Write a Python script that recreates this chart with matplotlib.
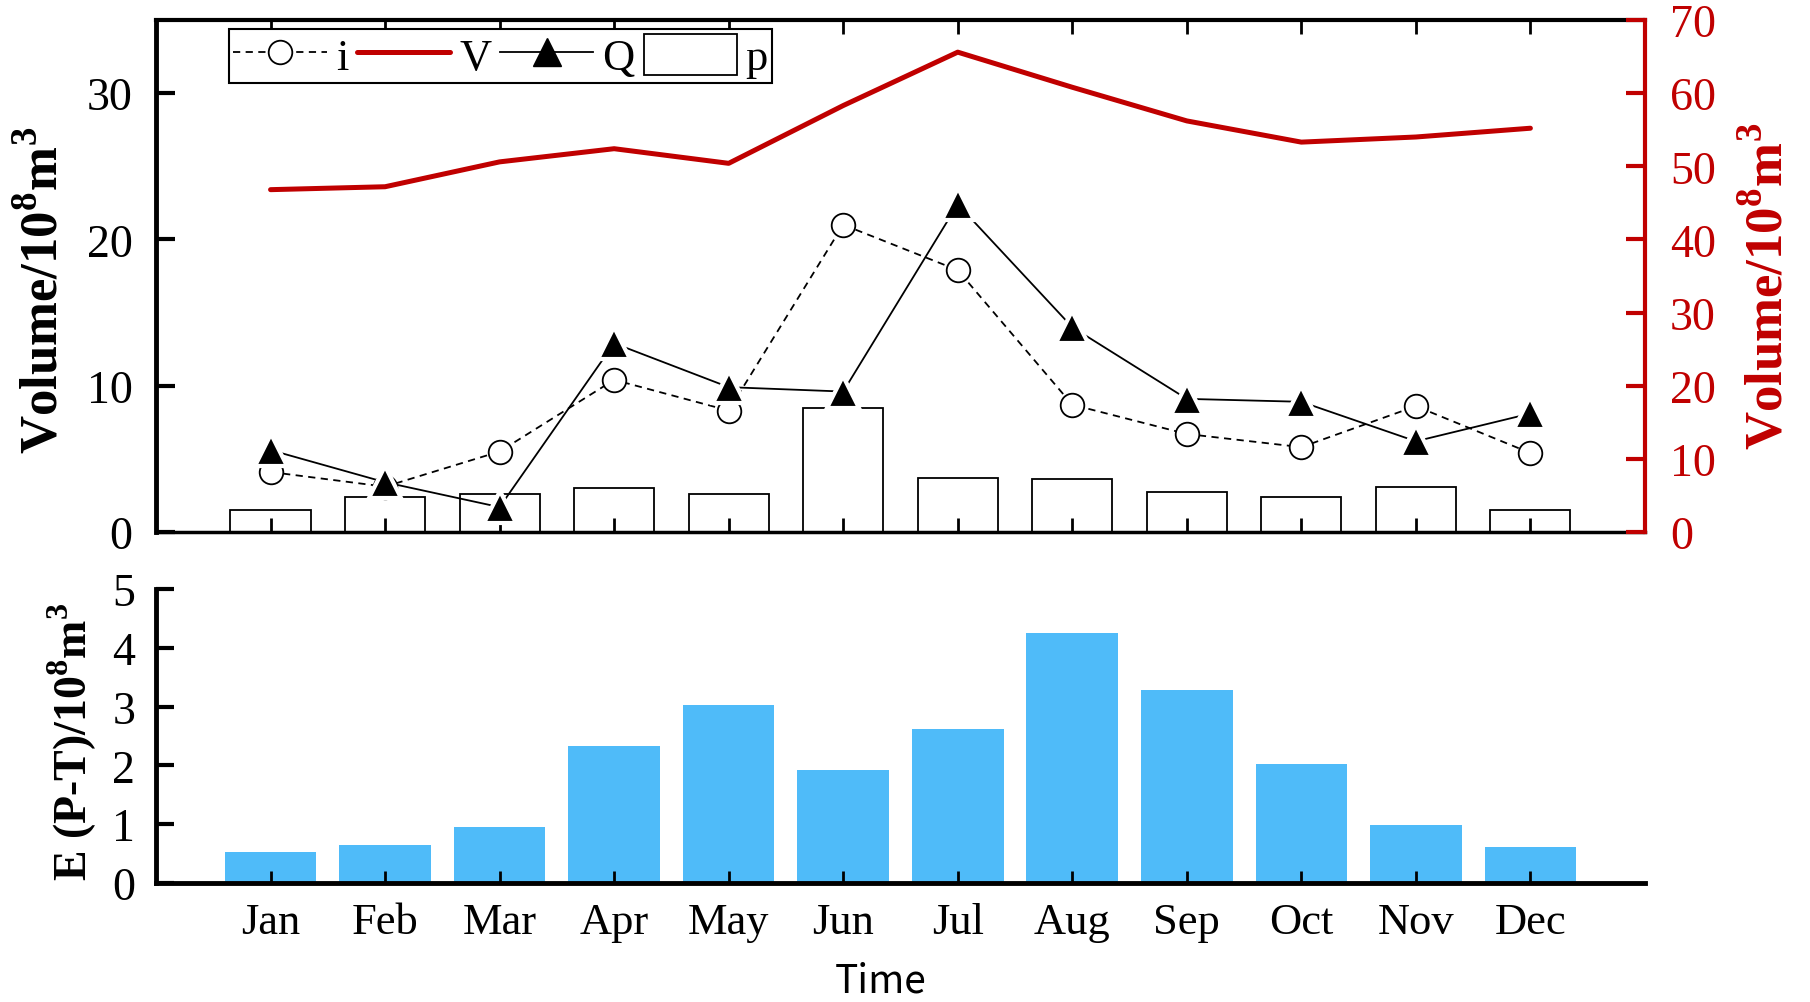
import numpy as np
import matplotlib
matplotlib.use('Agg')
import matplotlib.pyplot as plt
from matplotlib.lines import Line2D
from matplotlib.patches import Patch

plt.rcParams['font.family'] = ['Liberation Serif', 'DejaVu Serif']
plt.rcParams['mathtext.fontset'] = 'custom'
plt.rcParams['mathtext.rm'] = 'Liberation Serif'
plt.rcParams['mathtext.bf'] = 'Liberation Serif:bold'

months = ['Jan', 'Feb', 'Mar', 'Apr', 'May', 'Jun',
          'Jul', 'Aug', 'Sep', 'Oct', 'Nov', 'Dec']
inflow_i = [4.1, 3.1, 5.5, 10.4, 8.3, 21.0, 17.9, 8.7, 6.7, 5.8, 8.6, 5.4]
storage_V = [46.8, 47.2, 50.6, 52.4, 50.4, 58.3, 65.6, 60.8, 56.2, 53.3, 54.0, 55.2]
outflow_Q = [5.6, 3.4, 1.7, 12.9, 9.9, 9.6, 22.4, 14.0, 9.1, 8.9, 6.2, 8.1]
precip_p = [1.5, 2.4, 2.6, 3.0, 2.6, 8.5, 3.7, 3.6, 2.7, 2.4, 3.1, 1.5]
evap_E = [0.52, 0.65, 0.96, 2.33, 3.03, 1.92, 2.62, 4.25, 3.29, 2.02, 0.99, 0.61]

RED = '#C00000'
BLUE = '#4FBBF9'

x = np.arange(1, len(months) + 1)

fig = plt.figure(figsize=(18.1, 10.03), dpi=100)
ax = fig.add_axes([0.0862, 0.4686, 0.8226, 0.5105])
ax2 = ax.twinx()
axb = fig.add_axes([0.0862, 0.1186, 0.8226, 0.2932])

# --- top panel: volumes ---
ax.bar(x, precip_p, width=0.7, facecolor='white', edgecolor='black', linewidth=1.3, zorder=1)
ax.plot(x, inflow_i, color='black', lw=1.3, ls=(0, (4, 3)), marker='o', ms=17,
        mfc='white', mec='black', mew=1.3, zorder=3)
ax.plot(x, outflow_Q, color='black', lw=1.3, zorder=4)
ax.plot(x, outflow_Q, ls='none', marker='^', ms=23, mfc='black', mec='white', mew=3, zorder=5)
ax2.plot(x, storage_V, color=RED, lw=3.6, solid_capstyle='round')

ax.set_xlim(0, 13)
ax.set_ylim(0, 35)
ax2.set_ylim(0, 70)
ax.set_xticks(x)
ax.set_yticks([0, 10, 20, 30])
ax2.set_yticks(np.arange(0, 71, 10))
ax.tick_params(axis='x', direction='in', top=True, bottom=True, labelbottom=False,
               length=10, width=2)
ax.tick_params(axis='y', direction='in', length=14, width=3, labelsize=33, pad=17)
ax2.tick_params(axis='y', direction='in', length=14, width=3, labelsize=33, pad=18,
                colors=RED)

ax.spines['left'].set_linewidth(3.5)
ax.spines['top'].set_linewidth(3)
ax.spines['bottom'].set_linewidth(2.5)
ax.spines['right'].set_visible(False)
for s in ['left', 'top', 'bottom']:
    ax2.spines[s].set_visible(False)
ax2.spines['right'].set_color(RED)
ax2.spines['right'].set_linewidth(3)

handles = [
    Line2D([], [], color='black', lw=1.3, ls=(0, (4, 3)), marker='o', ms=17,
           mfc='white', mec='black', mew=1.3),
    Line2D([], [], color=RED, lw=3.6, solid_capstyle='round'),
    Line2D([], [], color='black', lw=1.3, marker='^', ms=20, mfc='black', mec='black'),
    Patch(facecolor='white', edgecolor='black', linewidth=1.3),
]
leg = ax2.legend(handles, ['i', 'V', 'Q', 'p'], ncol=4, loc='upper left',
                 bbox_to_anchor=(0.049, 0.982), borderaxespad=0, fontsize=32,
                 handlelength=2.1, handleheight=1.05, handletextpad=0.2,
                 columnspacing=0.2, borderpad=0.1, fancybox=False, framealpha=1,
                 edgecolor='black')
leg.get_frame().set_linewidth(1.5)

# --- bottom panel: evaporation excess ---
axb.bar(x, evap_E, width=0.8, color=BLUE, zorder=1)
axb.set_xlim(0, 13)
axb.set_ylim(0, 5)
axb.set_xticks(x)
axb.set_xticklabels(months)
axb.set_yticks(np.arange(0, 6, 1))
axb.tick_params(axis='x', direction='in', length=9, width=2, labelsize=32, pad=14)
axb.tick_params(axis='y', direction='in', length=13, width=3, labelsize=33, pad=15)
for s in ['top', 'right']:
    axb.spines[s].set_visible(False)
axb.spines['left'].set_linewidth(3.5)
axb.spines['bottom'].set_linewidth(3.5)

# axis titles
fig.text(43 / 1810, 1 - 290 / 1003, r'Volume/10$^\mathbf{8}$m$^\mathbf{3}$',
         rotation=90, ha='center', va='center', fontsize=38, fontweight='bold')
fig.text(1768 / 1810, 1 - 286 / 1003, r'Volume/10$^\mathbf{8}$m$^\mathbf{3}$',
         rotation=90, ha='center', va='center', fontsize=38, fontweight='bold', color=RED)
fig.text(72 / 1810, 1 - 742 / 1003, r'E (P-T)/10$^\mathbf{8}$m$^\mathbf{3}$',
         rotation=90, ha='center', va='center', fontsize=33, fontweight='bold')
fig.text(881 / 1810, 1 - 982 / 1003, 'Time', ha='center', va='center',
         fontsize=28, family=['Noto Sans CJK SC', 'DejaVu Sans'])

fig.savefig('out.png', dpi=100)
